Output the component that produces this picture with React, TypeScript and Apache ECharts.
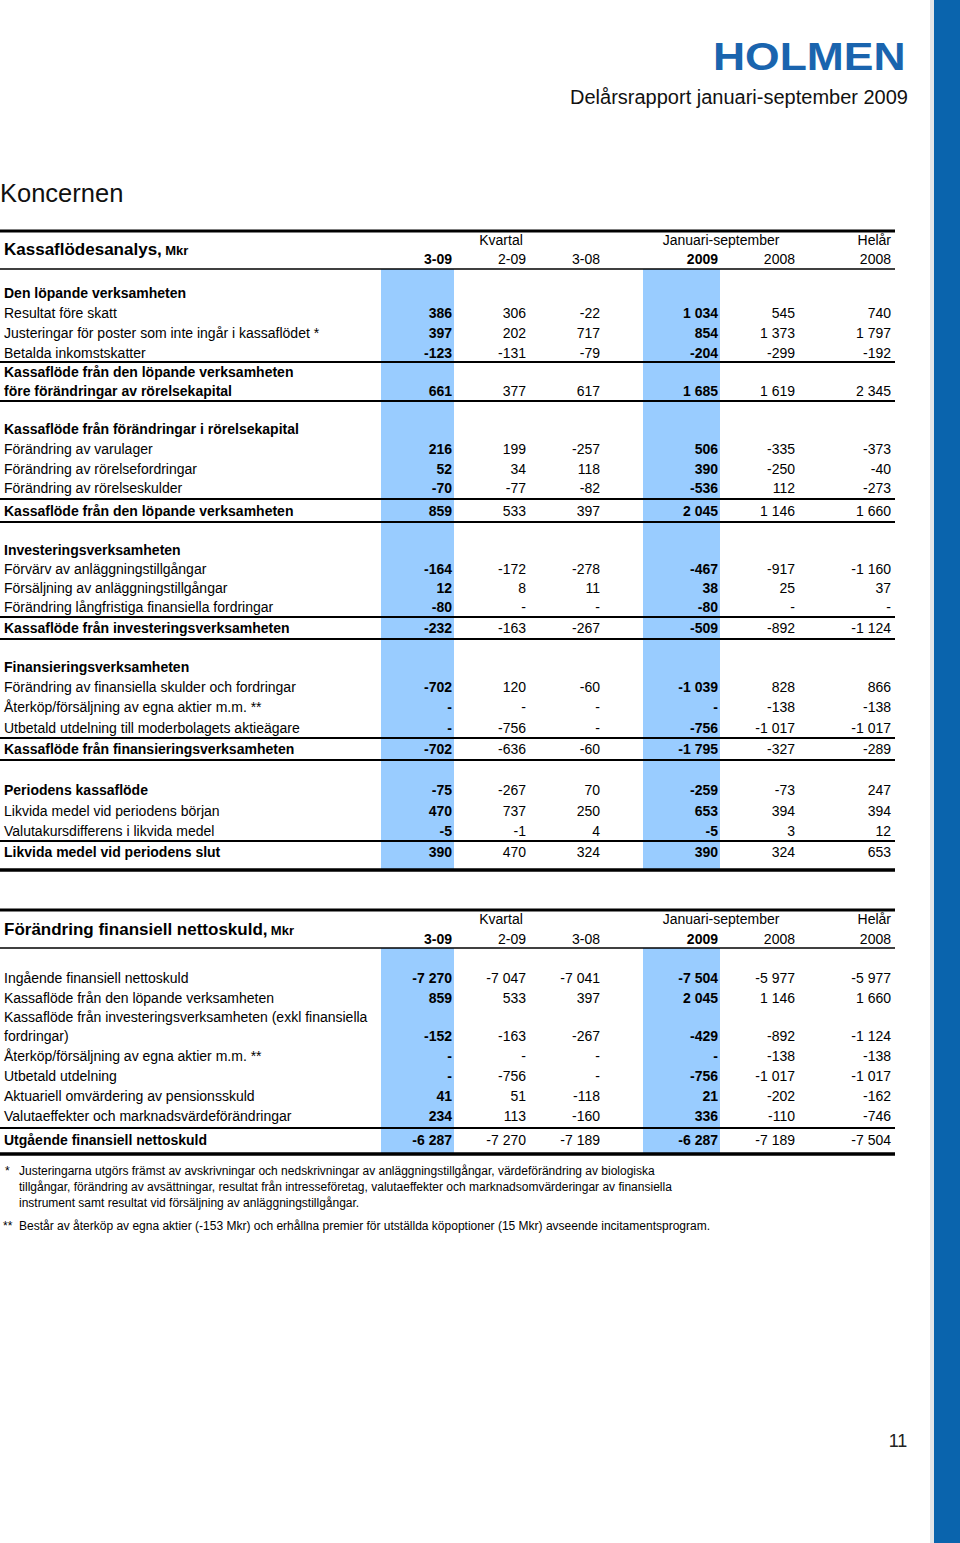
import React, { useEffect, useRef } from "react";
import * as echarts from "echarts";

// ---------- DATA ----------
const columnHeaders = ["3-09", "2-09", "3-08", "2009", "2008", "2008"];
const groupHeaders = ["Kvartal", "Januari-september", "Helår"];

const cashFlowLabels = [
  "Den löpande verksamheten",
  "Resultat före skatt",
  "Justeringar för poster som inte ingår i kassaflödet *",
  "Betalda inkomstskatter",
  "Kassaflöde från den löpande verksamheten\nföre förändringar av rörelsekapital",
  "Kassaflöde från förändringar i rörelsekapital",
  "Förändring av varulager",
  "Förändring av rörelsefordringar",
  "Förändring av rörelseskulder",
  "Kassaflöde från den löpande verksamheten",
  "Investeringsverksamheten",
  "Förvärv av anläggningstillgångar",
  "Försäljning av anläggningstillgångar",
  "Förändring långfristiga finansiella fordringar",
  "Kassaflöde från investeringsverksamheten",
  "Finansieringsverksamheten",
  "Förändring av finansiella skulder och fordringar",
  "Återköp/försäljning av egna aktier m.m. **",
  "Utbetald utdelning till moderbolagets aktieägare",
  "Kassaflöde från finansieringsverksamheten",
  "Periodens kassaflöde",
  "Likvida medel vid periodens början",
  "Valutakursdifferens i likvida medel",
  "Likvida medel vid periodens slut",
];
// null row = section heading, null value = "-"
const cashFlowValues: ((number | null)[] | null)[] = [
  null,
  [386, 306, -22, 1034, 545, 740],
  [397, 202, 717, 854, 1373, 1797],
  [-123, -131, -79, -204, -299, -192],
  [661, 377, 617, 1685, 1619, 2345],
  null,
  [216, 199, -257, 506, -335, -373],
  [52, 34, 118, 390, -250, -40],
  [-70, -77, -82, -536, 112, -273],
  [859, 533, 397, 2045, 1146, 1660],
  null,
  [-164, -172, -278, -467, -917, -1160],
  [12, 8, 11, 38, 25, 37],
  [-80, null, null, -80, null, null],
  [-232, -163, -267, -509, -892, -1124],
  null,
  [-702, 120, -60, -1039, 828, 866],
  [null, null, null, null, -138, -138],
  [null, -756, null, -756, -1017, -1017],
  [-702, -636, -60, -1795, -327, -289],
  [-75, -267, 70, -259, -73, 247],
  [470, 737, 250, 653, 394, 394],
  [-5, -1, 4, -5, 3, 12],
  [390, 470, 324, 390, 324, 653],
];
const cashFlowBoldLabel = [
  true, false, false, false, true, true, false, false, false, true, true, false, false,
  false, true, true, false, false, false, true, true, false, false, true,
];

const netDebtLabels = [
  "Ingående finansiell nettoskuld",
  "Kassaflöde från den löpande verksamheten",
  "Kassaflöde från investeringsverksamheten (exkl finansiella\nfordringar)",
  "Återköp/försäljning av egna aktier m.m. **",
  "Utbetald utdelning",
  "Aktuariell omvärdering av pensionsskuld",
  "Valutaeffekter och marknadsvärdeförändringar",
  "Utgående finansiell nettoskuld",
];
const netDebtValues: (number | null)[][] = [
  [-7270, -7047, -7041, -7504, -5977, -5977],
  [859, 533, 397, 2045, 1146, 1660],
  [-152, -163, -267, -429, -892, -1124],
  [null, null, null, null, -138, -138],
  [null, -756, null, -756, -1017, -1017],
  [41, 51, -118, 21, -202, -162],
  [234, 113, -160, 336, -110, -746],
  [-6287, -7270, -7189, -6287, -7189, -7504],
];
const netDebtBoldLabel = [false, false, false, false, false, false, false, true];

const footnotes = [
  {
    mark: "*",
    lines: [
      "Justeringarna utgörs främst av avskrivningar och nedskrivningar av anläggningstillgångar, värdeförändring av biologiska",
      "tillgångar, förändring av avsättningar, resultat från intresseföretag, valutaeffekter och marknadsomvärderingar av finansiella",
      "instrument samt resultat vid försäljning av anläggningstillgångar.",
    ],
  },
  {
    mark: "**",
    lines: [
      "Består av återköp av egna aktier (-153 Mkr) och erhållna premier för utställda köpoptioner (15 Mkr) avseende incitamentsprogram.",
    ],
  },
];

// ---------- LAYOUT ----------
const W = 960;
const H = 1543;
const FONT = '"Liberation Sans", Arial, Helvetica, sans-serif';
const COL_RIGHT = [452, 526, 600, 718, 795, 891];
const HIGHLIGHT_COLS = [0, 3];
const HIGHLIGHT_X = [
  [381, 454],
  [643, 720],
];
const GROUP_X = [501, 721, 891];
const GROUP_ALIGN = ["center", "center", "right"];
const LINE_GAP = 19;

const T1 = {
  groupY: 240,
  colY: 259,
  titleY: 249,
  blueTop: 269,
  blueBottom: 871,
  rowY: [293, 313, 333, 353, 391, 429, 449, 469, 488, 511, 550, 569, 588, 607, 628, 667, 687, 707, 728, 749, 790, 811, 831, 852],
  lines: [
    [231, 3],
    [269, 1.5],
    [362, 2],
    [401, 2],
    [499, 2],
    [522, 2],
    [617, 2],
    [639, 2],
    [738, 2],
    [760, 2],
    [841, 2],
    [870, 3.5],
  ],
};
const T2 = {
  groupY: 919,
  colY: 939,
  titleY: 929,
  blueTop: 948,
  blueBottom: 1155,
  rowY: [978, 998, 1036, 1056, 1076, 1096, 1116, 1140],
  lines: [
    [910, 3],
    [948, 1.5],
    [1128, 2],
    [1154, 3.5],
  ],
};

function fmt(v: number | null): string {
  if (v === null) return "-";
  const s = Math.abs(v)
    .toString()
    .replace(/\B(?=(\d{3})+(?!\d))/g, " ");
  return (v < 0 ? "-" : "") + s;
}

function txt(
  text: string,
  x: number,
  y: number,
  size: number,
  bold = false,
  align = "left",
  fill = "#000"
) {
  return {
    type: "text",
    x,
    y,
    silent: true,
    style: {
      text,
      fill,
      fontSize: size,
      fontWeight: bold ? "bold" : "normal",
      fontFamily: FONT,
      textAlign: align,
      align,
      textVerticalAlign: "middle",
      verticalAlign: "middle",
    },
  };
}

function hline(y: number, w: number) {
  return {
    type: "rect",
    silent: true,
    shape: { x: 0, y: y - w / 2, width: 895, height: w },
    style: { fill: "#000" },
  };
}

function buildTable(
  title: string,
  labels: string[],
  values: any[],
  boldLabel: boolean[],
  L: any
) {
  const els: any[] = [];
  HIGHLIGHT_X.forEach(([x0, x1]) => {
    els.push({
      type: "rect",
      silent: true,
      shape: { x: x0, y: L.blueTop, width: x1 - x0, height: L.blueBottom - L.blueTop },
      style: { fill: "#99ccff" },
    });
  });
  L.lines.forEach(([y, w]: number[]) => els.push(hline(y, w)));
  els.push({
    type: "text",
    x: 4,
    y: L.titleY,
    silent: true,
    style: {
      text: `{a|${title},} {b|Mkr}`,
      fill: "#000",
      fontFamily: FONT,
      textVerticalAlign: "middle",
      verticalAlign: "middle",
      rich: {
        a: { fontSize: 17, fontWeight: "bold", fontFamily: FONT, fill: "#000" },
        b: { fontSize: 13, fontWeight: "bold", fontFamily: FONT, fill: "#000", padding: [3, 0, 0, 0] },
      },
    },
  });
  groupHeaders.forEach((g, i) => els.push(txt(g, GROUP_X[i], L.groupY, 14, false, GROUP_ALIGN[i])));
  columnHeaders.forEach((c, i) =>
    els.push(txt(c, COL_RIGHT[i], L.colY, 14, HIGHLIGHT_COLS.includes(i), "right"))
  );
  labels.forEach((label, r) => {
    const y = L.rowY[r];
    const parts = label.split("\n");
    parts.forEach((p, k) => {
      els.push(txt(p, 4, y - (parts.length - 1 - k) * LINE_GAP, 14, boldLabel[r]));
    });
    const vals = values[r];
    if (vals) {
      vals.forEach((v: number | null, c: number) => {
        els.push(txt(fmt(v), COL_RIGHT[c], y, 14, HIGHLIGHT_COLS.includes(c), "right"));
      });
    }
  });
  return els;
}

export default function App() {
  const ref = useRef<HTMLDivElement>(null);
  useEffect(() => {
    if (!ref.current) return;
    const chart = echarts.init(ref.current, undefined, { renderer: "svg", width: W, height: H });
    const elements: any[] = [];
    elements.push({ type: "rect", silent: true, shape: { x: 930, y: 0, width: 4, height: H }, style: { fill: "#e4e6e9" } });
    elements.push({ type: "rect", silent: true, shape: { x: 934, y: 0, width: 26, height: H }, style: { fill: "#0a64ad" } });
    elements.push({
      type: "text",
      x: 713,
      y: 56,
      scaleX: 1.14,
      silent: true,
      style: {
        text: "HOLMEN",
        fill: "#1a64ae",
        fontSize: 39,
        fontWeight: "bold",
        fontFamily: FONT,
        textAlign: "left",
        align: "left",
        textVerticalAlign: "middle",
        verticalAlign: "middle",
      },
    });
    elements.push(txt("Delårsrapport januari-september 2009", 908, 97, 20, false, "right", "#111"));
    elements.push(txt("Koncernen", 0, 193, 25.5, false, "left", "#111"));

    elements.push(...buildTable("Kassaflödesanalys", cashFlowLabels, cashFlowValues as any[], cashFlowBoldLabel, T1));
    elements.push(...buildTable("Förändring finansiell nettoskuld", netDebtLabels, netDebtValues, netDebtBoldLabel, T2));

    const fnY = [1171, 1226];
    footnotes.forEach((f, i) => {
      elements.push(txt(f.mark, f.mark.length > 1 ? 3 : 5, fnY[i], 12));
      f.lines.forEach((l, k) => elements.push(txt(l, 19, fnY[i] + k * 16, 12)));
    });
    elements.push(txt("11", 898, 1441, 18, false, "center", "#222"));

    chart.setOption({ animation: false, graphic: { elements } });
    return () => chart.dispose();
  }, []);
  return (
    <div
      ref={ref}
      style={{ position: "absolute", left: 0, top: 0, width: W, height: H, background: "#fff" }}
    />
  );
}
